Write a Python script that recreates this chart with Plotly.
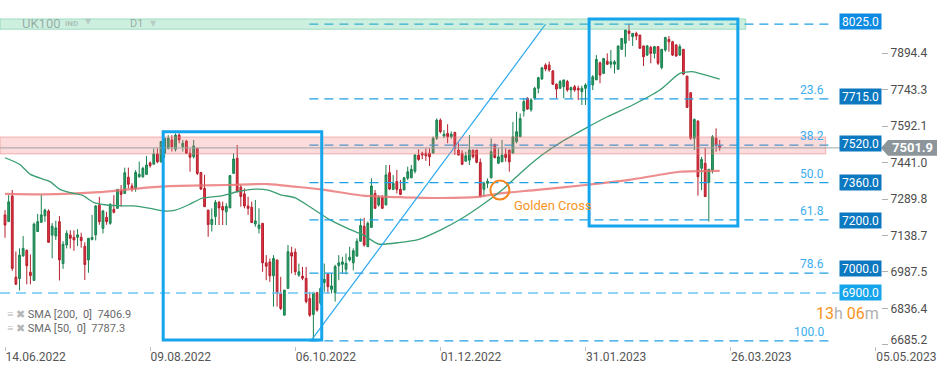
import plotly.graph_objects as go

# ---------------- data ----------------
date_labels = ["14.06.2022", "09.08.2022", "06.10.2022", "01.12.2022", "31.01.2023", "26.03.2023", "05.05.2023"]
date_index = [0, 40, 80, 120, 160, 200, 240]

opens = [7224, 7196, 7302, 6966, 6960, 7054, 7077, 6986, 6952, 7155,
         7193, 7220, 7240, 7140, 7136, 7196, 7022, 7099, 7141, 7131,
         7131, 7131, 7094, 7037, 7122, 7141, 7265, 7168, 7214, 7189,
         7247, 7251, 7324, 7313, 7380, 7344, 7334, 7382, 7382, 7392,
         7440, 7434, 7477, 7444, 7480, 7500, 7535, 7496, 7555, 7507,
         7530, 7480, 7465, 7500, 7400, 7334, 7244, 7184, 7217, 7276,
         7259, 7237, 7253, 7396, 7459, 7339, 7311, 7261, 7256, 7186,
         7168, 7189, 7025, 7029, 6971, 7037, 6898, 6808, 6919, 7067,
         7070, 6974, 6970, 6961, 6877, 6811, 6901, 6857, 6943, 6978,
         6915, 6901, 7013, 7019, 6998, 7037, 7025, 7053, 7115, 7177,
         7092, 7172, 7313, 7265, 7295, 7265, 7399, 7330, 7362, 7330,
         7327, 7376, 7378, 7405, 7472, 7480, 7480, 7480, 7480, 7542,
         7617, 7551, 7562, 7548, 7566, 7493, 7480, 7447, 7451, 7493,
         7493, 7442, 7330, 7355, 7378, 7517, 7438, 7444, 7476, 7493,
         7480, 7528, 7548, 7655, 7708, 7660, 7708, 7749, 7788, 7846,
         7846, 7821, 7766, 7749, 7756, 7777, 7742, 7756, 7749, 7735,
         7749, 7760, 7763, 7784, 7855, 7811, 7862, 7849, 7849, 7828,
         7911, 7936, 7987, 7963, 7977, 7970, 7925, 7887, 7919, 7894,
         7922, 7835, 7908, 7952, 7942, 7929, 7887, 7911, 7800, 7731,
         7542, 7613, 7417, 7438, 7358, 7410, 7542, 7510]
highs = [7244, 7306, 7327, 7072, 7085, 7136, 7080, 7060, 7192, 7228,
         7306, 7250, 7247, 7190, 7200, 7219, 7115, 7160, 7160, 7160,
         7165, 7150, 7110, 7127, 7224, 7265, 7299, 7245, 7237, 7272,
         7306, 7330, 7348, 7420, 7420, 7355, 7410, 7445, 7424, 7468,
         7445, 7500, 7500, 7528, 7542, 7555, 7555, 7562, 7562, 7535,
         7535, 7500, 7535, 7500, 7400, 7390, 7244, 7251, 7286, 7282,
         7279, 7272, 7390, 7479, 7514, 7348, 7334, 7299, 7279, 7286,
         7251, 7189, 7057, 7043, 7057, 7037, 6967, 6912, 7099, 7092,
         7085, 7022, 7008, 7008, 6905, 6905, 6905, 6925, 7022, 6981,
         6981, 7017, 7057, 7050, 7064, 7092, 7085, 7127, 7209, 7212,
         7196, 7376, 7327, 7306, 7306, 7431, 7431, 7389, 7410, 7369,
         7382, 7424, 7431, 7476, 7496, 7486, 7500, 7500, 7549, 7624,
         7624, 7576, 7600, 7570, 7569, 7521, 7493, 7486, 7555, 7493,
         7493, 7458, 7362, 7375, 7541, 7517, 7500, 7535, 7500, 7493,
         7610, 7652, 7645, 7708, 7712, 7708, 7756, 7797, 7838, 7853,
         7860, 7825, 7770, 7784, 7784, 7784, 7756, 7763, 7760, 7760,
         7770, 7790, 7804, 7887, 7860, 7873, 7894, 7908, 7866, 7925,
         7956, 7991, 8016, 7977, 7984, 7970, 7925, 7929, 7925, 7925,
         7922, 7911, 7963, 7966, 7946, 7932, 7932, 7911, 7800, 7731,
         7624, 7617, 7465, 7503, 7413, 7555, 7583, 7535]
lows = [7129, 7196, 6992, 6936, 6910, 7050, 6936, 6936, 6952, 7155,
        7193, 7195, 7110, 7044, 7120, 6952, 7000, 7085, 7085, 7075,
        7095, 7088, 6954, 6984, 7118, 7118, 7183, 7147, 7183, 7183,
        7230, 7251, 7258, 7313, 7334, 7320, 7320, 7378, 7378, 7392,
        7420, 7434, 7438, 7441, 7460, 7495, 7487, 7487, 7521, 7487,
        7476, 7403, 7458, 7389, 7327, 7258, 7133, 7155, 7182, 7182,
        7182, 7182, 7253, 7396, 7320, 7258, 7251, 7224, 7192, 7175,
        7147, 6988, 6953, 6946, 6843, 6843, 6829, 6808, 6919, 6981,
        6974, 6967, 6953, 6857, 6801, 6707, 6822, 6850, 6905, 6898,
        6898, 6864, 6953, 6981, 6977, 7030, 6994, 7050, 7112, 7092,
        7092, 7172, 7251, 7258, 7251, 7265, 7327, 7327, 7313, 7306,
        7327, 7368, 7376, 7396, 7448, 7455, 7448, 7427, 7480, 7535,
        7562, 7542, 7521, 7540, 7473, 7472, 7431, 7445, 7431, 7458,
        7438, 7296, 7300, 7335, 7375, 7458, 7438, 7444, 7445, 7403,
        7480, 7521, 7548, 7632, 7660, 7652, 7701, 7728, 7784, 7820,
        7818, 7763, 7708, 7749, 7708, 7735, 7708, 7735, 7700, 7680,
        7680, 7740, 7742, 7784, 7770, 7811, 7846, 7832, 7811, 7828,
        7908, 7880, 7946, 7925, 7949, 7915, 7842, 7883, 7853, 7873,
        7846, 7828, 7901, 7901, 7883, 7880, 7883, 7804, 7670, 7535,
        7493, 7304, 7327, 7300, 7196, 7396, 7486, 7490]
closes = [7182, 7278, 7002, 6936, 7057, 7085, 7013, 6972, 7186, 7196,
          7224, 7244, 7110, 7177, 7170, 7037, 7102, 7148, 7127, 7120,
          7141, 7117, 7018, 7127, 7131, 7261, 7196, 7240, 7196, 7268,
          7235, 7330, 7309, 7399, 7351, 7331, 7400, 7392, 7417, 7431,
          7428, 7477, 7444, 7528, 7542, 7542, 7507, 7555, 7535, 7521,
          7480, 7463, 7510, 7396, 7331, 7258, 7184, 7205, 7276, 7253,
          7244, 7259, 7387, 7456, 7320, 7300, 7261, 7251, 7192, 7199,
          7182, 7025, 7011, 6971, 7043, 6898, 6836, 6912, 7071, 7053,
          6988, 6988, 6961, 6864, 6808, 6901, 6829, 6919, 6957, 6926,
          6929, 7010, 7025, 7029, 7023, 7048, 7075, 7115, 7180, 7099,
          7189, 7344, 7251, 7297, 7251, 7390, 7331, 7355, 7330, 7309,
          7378, 7403, 7413, 7472, 7454, 7472, 7469, 7465, 7542, 7617,
          7569, 7559, 7548, 7559, 7500, 7472, 7434, 7469, 7493, 7465,
          7442, 7300, 7355, 7364, 7486, 7462, 7465, 7472, 7462, 7444,
          7548, 7569, 7624, 7694, 7663, 7701, 7749, 7793, 7834, 7829,
          7825, 7766, 7746, 7777, 7784, 7742, 7752, 7742, 7742, 7749,
          7763, 7780, 7797, 7869, 7804, 7873, 7849, 7859, 7859, 7925,
          7956, 7991, 7977, 7977, 7966, 7915, 7880, 7925, 7894, 7922,
          7853, 7911, 7960, 7942, 7887, 7883, 7922, 7808, 7670, 7542,
          7620, 7382, 7454, 7300, 7413, 7548, 7514, 7502]

# moving averages (bar index, value)
sma200_idx = [0, 10, 26, 39, 48, 61.5, 72.5, 80, 87, 98.7, 109.7, 120, 130.4, 137, 146, 160, 172, 186, 197]
sma200_val = [7311, 7309, 7318, 7337, 7344, 7348, 7352, 7341, 7330, 7304, 7297, 7294, 7299, 7314, 7327, 7348, 7369, 7403, 7406.9]
sma50_idx = [0, 4, 7, 12.4, 15, 18, 21.5, 24.4, 28, 31, 35.4, 40, 44, 47, 50.5, 54.3, 60, 64, 69, 72.5, 76, 80,
             84, 89.6, 95, 98.7, 103, 109, 113.6, 120, 126, 131.5, 137, 142.5, 148, 153.5, 160, 166, 173, 180.5,
             186, 189.4, 192.4, 197]
sma50_val = [7461, 7434, 7392, 7362, 7331, 7316, 7304, 7276, 7265, 7262, 7261, 7251, 7240, 7244, 7265, 7293, 7304,
             7320, 7331, 7327, 7307, 7295, 7258, 7203, 7164, 7141, 7103, 7110, 7120, 7161, 7210, 7265, 7327, 7403,
             7472, 7528, 7583, 7631, 7680, 7742, 7811, 7818, 7807, 7787.3]

# Fibonacci retracement (swing low -> swing high)
fib_high, fib_low = 8015, 6701
fib_start, fib_end = 83.9, 227.4
fib_levels = [0.0, 23.6, 38.2, 50.0, 61.8, 78.6, 100.0]
fib_texts = ["", "23.6", "38.2", "50.0", "61.8", "78.6", "100.0"]

# horizontal level tags on the right
tag_values = [8025.0, 7715.0, 7520.0, 7360.0, 7200.0, 7000.0, 6900.0]
tag_colors = ["#0d8ae2", "#0b78c0", "#0b78c0", "#0b78c0", "#0b78c0", "#0b78c0", "#16a5ec"]
support_6900 = 6900

# zones / boxes / trend line
red_zone = (7477, 7547)
green_zone = (7994, 8037)
box1 = dict(x0=43.6, x1=87.3, y0=6705, y1=7569)
box2 = dict(x0=161.0, x1=202.0, y0=7178, y1=8037)
trend_from = (84.5, 6705)
trend_to = (149.0, 8015)
golden_cross = (136.4, 7327)
last_price = 7501.9

tick_vals = [7894.4, 7743.3, 7592.1, 7441.0, 7289.8, 7138.7, 6987.5, 6836.4]
bottom_tick = 6685.2

# ---------------- figure ----------------
W, H = 949, 370
X_RANGE = [-1.38, 260.2]
Y_RANGE = [6680.0, 8115.5]
FONT = "Roboto"

def px_to_paper(px):
    return px / W

x = list(range(len(closes)))
fig = go.Figure()

fig.add_trace(go.Candlestick(
    x=x, open=opens, high=highs, low=lows, close=closes,
    increasing=dict(line=dict(color="#19804f", width=1), fillcolor="#2ba067"),
    decreasing=dict(line=dict(color="#b51f2d", width=1), fillcolor="#e2323f"),
    whiskerwidth=0, hoverinfo="skip", showlegend=False))

fig.add_trace(go.Scatter(x=sma200_idx, y=sma200_val, mode="lines",
                         line=dict(color="rgba(232,112,112,0.8)", width=2.2, shape="spline", smoothing=0.6),
                         hoverinfo="skip", showlegend=False))
fig.add_trace(go.Scatter(x=sma50_idx, y=sma50_val, mode="lines",
                         line=dict(color="#3a9e72", width=1.3, shape="spline", smoothing=0.6),
                         hoverinfo="skip", showlegend=False))
# dummy trace for the overlay axis carrying the bottom tick
fig.add_trace(go.Scatter(x=[0], y=[7000], yaxis="y2", mode="markers",
                         marker=dict(opacity=0), hoverinfo="skip", showlegend=False))

shapes = []
annotations = []

# fib lines
fib_prices = [fib_high - lv / 100 * (fib_high - fib_low) for lv in fib_levels]
for price, txt in zip(fib_prices, fib_texts):
    shapes.append(dict(type="line", xref="x", yref="y", x0=fib_start, x1=fib_end, y0=price, y1=price,
                       line=dict(color="#1e9fe6", width=1.2, dash="9px,6px"), layer="above"))
    if txt:
        annotations.append(dict(xref="x", yref="y", x=226.3, y=price, yshift=9, text=txt, showarrow=False,
                                xanchor="right", font=dict(family=FONT, size=12, color="#3aaef0")))

# 6900 support line
shapes.append(dict(type="line", xref="paper", yref="y", x0=0, x1=px_to_paper(839), y0=support_6900, y1=support_6900,
                   line=dict(color="#6cc8f4", width=1.5, dash="10px,6px"), layer="above"))

# trend line
shapes.append(dict(type="line", xref="x", yref="y", x0=trend_from[0], y0=trend_from[1], x1=trend_to[0], y1=trend_to[1],
                   line=dict(color="#2aa8f0", width=1.2), layer="above"))

# zones
shapes.append(dict(type="rect", xref="paper", yref="y", x0=0, x1=px_to_paper(825.7), y0=red_zone[0], y1=red_zone[1],
                   fillcolor="rgba(240,110,110,0.25)", line=dict(color="rgba(235,120,120,0.5)", width=1), layer="above"))
shapes.append(dict(type="rect", xref="paper", yref="y", x0=0, x1=px_to_paper(745.7), y0=green_zone[0], y1=green_zone[1],
                   fillcolor="rgba(100,205,160,0.32)", line=dict(color="rgba(80,190,140,0.45)", width=1), layer="above"))

# current price line
shapes.append(dict(type="line", xref="paper", yref="y", x0=0, x1=px_to_paper(840), y0=last_price, y1=last_price,
                   line=dict(color="#9ea3a6", width=1), layer="above"))

# boxes
for b in (box1, box2):
    shapes.append(dict(type="rect", xref="x", yref="y", **b,
                       line=dict(color="#14a5ec", width=3), fillcolor="rgba(0,0,0,0)", layer="above"))

# golden cross circle
shapes.append(dict(type="circle", xref="x", yref="y", xsizemode="pixel", ysizemode="pixel",
                   xanchor=golden_cross[0], yanchor=golden_cross[1], x0=-9.5, x1=9.5, y0=-9.5, y1=9.5,
                   line=dict(color="#f5861f", width=2), layer="above"))
annotations.append(dict(xref="x", yref="y", x=139.7, y=7261, text="Golden Cross", showarrow=False, xanchor="left",
                        font=dict(family=FONT, size=13, color="#f7941d")))

# price tag of the last price
h = 7.8 * (Y_RANGE[1] - Y_RANGE[0]) / 346
xa, xb, xc = px_to_paper(881), px_to_paper(888), px_to_paper(937)
shapes.append(dict(type="path", xref="paper", yref="y",
                   path=f"M {xa},{last_price} L {xb},{last_price + h} L {xc},{last_price + h} "
                        f"L {xc},{last_price - h} L {xb},{last_price - h} Z",
                   fillcolor="#8c9599", line=dict(width=0), layer="above"))
annotations.append(dict(xref="paper", yref="y", x=px_to_paper(912), y=last_price, text=f"<b>{last_price:.1f}</b>",
                        showarrow=False, xanchor="center", yanchor="middle",
                        font=dict(family=FONT, size=13, color="white")))

# level tags
for val, col in zip(tag_values, tag_colors):
    annotations.append(dict(xref="paper", yref="y", x=px_to_paper(860.5), y=val, text=f"{val:.1f}", showarrow=False,
                            xanchor="center", yanchor="middle",
                            bgcolor=col, width=39, height=13, borderpad=1,
                            font=dict(family=FONT, size=12, color="white")))

# header
hdr_col = "rgba(115,128,124,0.6)"
annotations += [
    dict(xref="paper", yref="y", x=px_to_paper(20), y=8018, text="UK100", showarrow=False, xanchor="left",
         font=dict(family=FONT, size=13, color=hdr_col)),
    dict(xref="paper", yref="y", x=px_to_paper(63), y=8016, text="<b>IND</b>", showarrow=False, xanchor="left",
         font=dict(family=FONT, size=8, color="rgba(140,150,148,0.55)")),
    dict(xref="paper", yref="y", x=px_to_paper(83), y=8028, text="▼", showarrow=False, xanchor="left",
         font=dict(family="DejaVu Sans", size=8, color="rgba(160,170,168,0.5)")),
    dict(xref="paper", yref="y", x=px_to_paper(128), y=8018, text="D1", showarrow=False, xanchor="left",
         font=dict(family=FONT, size=11, color=hdr_col)),
    dict(xref="paper", yref="y", x=px_to_paper(148), y=8016, text="▼", showarrow=False, xanchor="left",
         font=dict(family="DejaVu Sans", size=8, color="rgba(160,170,168,0.5)")),
]

# SMA legend
icons = "<span style='color:#b5b5b5'>≡ ✖</span> "
annotations += [
    dict(xref="paper", yref="paper", x=px_to_paper(5), y=(346 - 323) / 346, showarrow=False, xanchor="left",
         text=icons + f"SMA [200,  0]  {sma200_val[-1]:.1f}", font=dict(family=FONT, size=11, color="#6a6a6a")),
    dict(xref="paper", yref="paper", x=px_to_paper(5), y=(346 - 337) / 346, showarrow=False, xanchor="left",
         text=icons + f"SMA [50,  0]  {sma50_val[-1]:.1f}", font=dict(family=FONT, size=11, color="#6a6a6a")),
]

# countdown
annotations.append(dict(xref="paper", yref="paper", x=px_to_paper(881), y=(346 - 325) / 346, showarrow=False,
                        xanchor="right",
                        text="<span style='color:#f7941d'>13</span><span style='color:#b0b0b0'>h</span> "
                             "<span style='color:#f7941d'>06</span><span style='color:#b0b0b0'>m</span>",
                        font=dict(family=FONT, size=16)))

axis_pos = px_to_paper(881)
fig.update_layout(
    width=W, height=H, margin=dict(l=0, r=0, t=0, b=24),
    paper_bgcolor="white", plot_bgcolor="white",
    shapes=shapes, annotations=annotations, showlegend=False,
    xaxis=dict(range=X_RANGE, tickvals=date_index, ticktext=date_labels, ticklabelposition="outside right",
               ticks="outside", ticklen=4, tickcolor="#c0c0c0", showgrid=False, zeroline=False, showline=False,
               rangeslider=dict(visible=False), tickfont=dict(family=FONT, size=12, color="#555555")),
    yaxis=dict(range=Y_RANGE, side="right", anchor="free", position=axis_pos, tickvals=tick_vals,
               ticktext=[f"{v:.1f}" for v in tick_vals], ticks="outside", ticklen=6, tickcolor="#b0b0b0",
               showgrid=False, zeroline=False, showline=False,
               tickfont=dict(family=FONT, size=12, color="#4d4d4d")),
    yaxis2=dict(range=Y_RANGE, overlaying="y", side="right", anchor="free", position=axis_pos,
                tickvals=[bottom_tick], ticktext=[f"{bottom_tick:.1f}"], ticks="outside", ticklen=6,
                tickcolor="#b0b0b0", ticklabelshift=-5, showgrid=False, zeroline=False, showline=False,
                tickfont=dict(family=FONT, size=12, color="#4d4d4d")),
)

fig.write_html("out.html")
